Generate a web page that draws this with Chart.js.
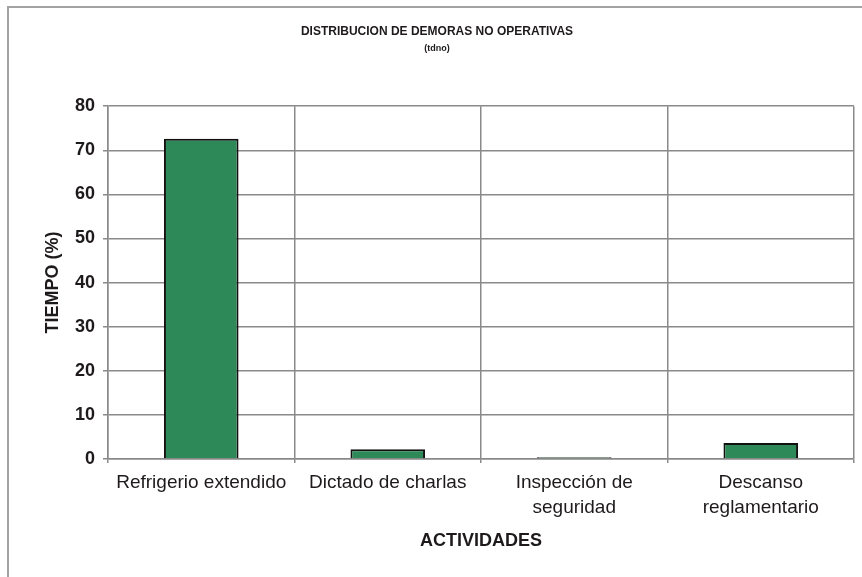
<!DOCTYPE html>
<html>
<head>
<meta charset="utf-8">
<script src="https://cdn.jsdelivr.net/npm/chart.js@4/dist/chart.umd.min.js"></script>
<style>
  html, body { margin: 0; padding: 0; background: #ffffff; }
  #wrap { width: 862px; height: 577px; position: relative; }
</style>
</head>
<body>
<div id="wrap"><canvas id="chart"></canvas></div>
<script>
// Activities (x categories) and their share of non-operative delay time (%)
const categories = [
  "Refrigerio extendido",
  "Dictado de charlas",
  ["Inspección de", "seguridad"],
  ["Descanso", "reglamentario"]
];
const tiempo = [72.6, 2.2, 0.4, 3.6];
const yTicks = [0, 10, 20, 30, 40, 50, 60, 70, 80];

const FONT = "'Liberation Sans', Arial, Helvetica, sans-serif";
const GRID = "#8a8a8a";
const INK = "#1e1a1c";

// Page frame around the whole chart
const framePlugin = {
  id: "frame",
  beforeDraw(chart) {
    const ctx = chart.ctx;
    ctx.save();
    ctx.fillStyle = "#ffffff";
    ctx.fillRect(0, 0, chart.width, chart.height);
    ctx.strokeStyle = "#a3a3a3";
    ctx.lineWidth = 2;
    ctx.strokeRect(8, 7, chart.width + 20, chart.height + 20);
    ctx.restore();
  }
};

new Chart(document.getElementById("chart"), {
  type: "bar",
  data: {
    labels: categories,
    datasets: [{
      label: "TIEMPO (%)",
      data: tiempo,
      backgroundColor: "#2d8a58",
      borderColor: "#111111",
      borderWidth: 2,
      categoryPercentage: 1,
      barPercentage: 0.4
    }]
  },
  options: {
    responsive: true,
    maintainAspectRatio: false,
    animation: false,
    layout: { padding: { left: 20, right: 8, top: 0, bottom: 0 } },
    plugins: {
      legend: { display: false },
      tooltip: { enabled: false },
      title: {
        display: true,
        text: "DISTRIBUCION DE DEMORAS NO OPERATIVAS",
        color: INK,
        font: { family: FONT, size: 12, weight: "bold", lineHeight: 1.2 },
        padding: { top: 24, bottom: 5 }
      },
      subtitle: {
        display: true,
        text: "(tdno)",
        color: INK,
        font: { family: FONT, size: 9, weight: "bold", lineHeight: 1.2 },
        padding: { top: 0, bottom: 52 }
      }
    },
    scales: {
      x: {
        afterFit(scale) { scale.height = 118; },
        grid: {
          color: GRID,
          lineWidth: 1.5,
          drawTicks: true,
          tickLength: 4,
          tickColor: GRID
        },
        border: { color: GRID, width: 1.5 },
        ticks: {
          color: INK,
          padding: 7,
          maxRotation: 0,
          autoSkip: false,
          font: { family: FONT, size: 19, lineHeight: 1.32 }
        },
        title: {
          display: true,
          text: "ACTIVIDADES",
          color: INK,
          font: { family: FONT, size: 18, weight: "bold", lineHeight: 1.2 },
          padding: { top: 0, bottom: 25 }
        }
      },
      y: {
        min: 0,
        max: 80,
        afterFit(scale) { scale.width = 88; },
        afterBuildTicks(scale) { scale.ticks = yTicks.map(v => ({ value: v })); },
        grid: {
          color: GRID,
          lineWidth: 1.5,
          drawTicks: true,
          tickLength: 5,
          tickColor: GRID
        },
        border: { color: GRID, width: 1.5 },
        ticks: {
          color: INK,
          padding: 8,
          font: { family: FONT, size: 18, weight: "bold" }
        },
        title: {
          display: true,
          text: "TIEMPO (%)",
          color: INK,
          font: { family: FONT, size: 18, weight: "bold", lineHeight: 1.2 },
          padding: { top: 22, bottom: 0 }
        }
      }
    }
  },
  plugins: [framePlugin]
});
</script>
</body>
</html>
